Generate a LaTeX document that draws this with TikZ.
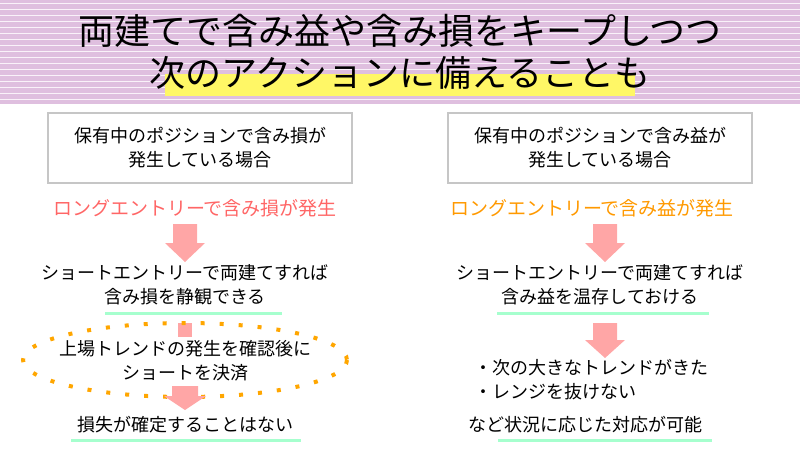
\documentclass[tikz,border=0pt]{standalone}
\usepackage{fontspec}
\setmainfont{Noto Sans CJK JP}
\begin{document}
\begin{tikzpicture}[x=1pt,y=-1pt,
 txt/.style={font=\fontsize{18}{24}\selectfont,align=center,inner sep=0pt},
 ttl/.style={font=\fontsize{36}{42}\selectfont,align=center,inner sep=0pt},
 boxn/.style={draw=gray!45,line width=2pt,minimum width=304,minimum height=70,txt},
 ul/.style={line width=3pt,draw=green!55!cyan!35},
 arr/.style={fill=red!35!white,draw=none}]
\useasboundingbox (0,0) rectangle (800,450);
\fill[violet!25] (0,0) rectangle (800,104);
\foreach \y in {3,9,...,104} \draw[white!80!violet!25,line width=0.8pt] (0,\y) -- (800,\y);
\fill[yellow!60] (165,74) rectangle (635,96);
\node[ttl] (t1) at (400,31) {両建てで含み益や含み損をキープしつつ};
\node[ttl] (t2) at (400,73) {次のアクションに備えることも};
% left
\node[boxn] (lb) at (200,148) {保有中のポジションで含み損が\\発生している場合};
\node[txt,text=red!60!white,font=\fontsize{19}{24}\selectfont] (lr) at (195,208) {ロングエントリーで含み損が発生};
\fill[arr] (173,224) rectangle (197,243) -- (205,243) -- (185,262) -- (165,243) -- (173,243) -- cycle;
\node[txt] (l1) at (185,285) {ショートエントリーで両建てすれば\\含み損を静観できる};
\draw[ul] (105,313) -- (282,313);
\fill[arr] (178,323) rectangle (192,337);
\draw[orange!70!yellow,line width=4pt,dash pattern=on 4pt off 15pt] (185,360) ellipse (162 and 37);
\node[txt] (l2) at (185,361) {上場トレンドの発生を確認後に\\ショートを決済};
\fill[arr] (172,386) -- (198,386) -- (198,396) -- (206,396) -- (185,410) -- (164,396) -- (172,396) -- cycle;
\node[txt] (l3) at (185,425) {損失が確定することはない};
\draw[ul] (71,440) -- (301,440);
% right
\node[boxn] (rb) at (600,148) {保有中のポジションで含み益が\\発生している場合};
\node[txt,text=orange!80!yellow,font=\fontsize{19}{24}\selectfont] (rr) at (592,208) {ロングエントリーで含み益が発生};
\fill[arr] (593,224) rectangle (617,243) -- (625,243) -- (605,262) -- (585,243) -- (593,243) -- cycle;
\node[txt] (r1) at (600,285) {ショートエントリーで両建てすれば\\含み益を温存しておける};
\draw[ul] (497,313) -- (709,313);
\fill[arr] (593,323) rectangle (617,340) -- (625,340) -- (605,358) -- (585,340) -- (593,340) -- cycle;
\node[txt,align=left,anchor=west] (r2) at (474,380) {・次の大きなトレンドがきた\\・レンジを抜けない};
\node[txt] (r3) at (585,425) {など状況に応じた対応が可能};
\draw[ul] (498,440) -- (712,440);
\end{tikzpicture}
\end{document}
